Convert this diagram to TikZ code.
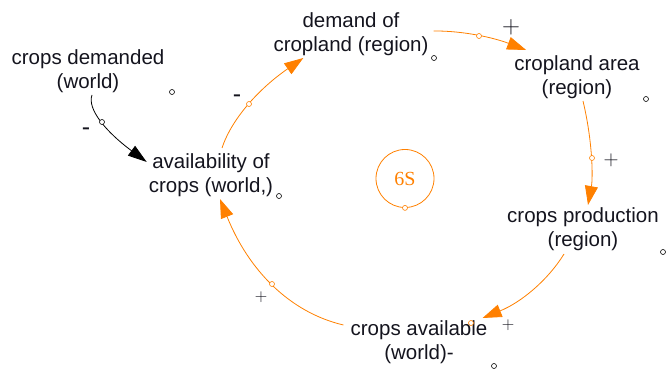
\documentclass[tikz,border=0pt]{standalone}
\usepackage{fontspec}
\setmainfont{Liberation Sans}
\newfontfamily\loopfont{Liberation Serif}
\usetikzlibrary{arrows.meta,calc}
\definecolor{cldorange}{RGB}{255,128,0}
\definecolor{cldtext}{RGB}{20,20,30}
\begin{document}
\begin{tikzpicture}[x=1pt,y=-1pt,
  var/.style={inner sep=0pt,align=center,text=cldtext,
    font=\fontsize{20.5}{24.5}\selectfont},
  link/.style={draw=cldorange,line width=0.8pt,
    -{Triangle[length=19pt,width=13pt]}},
  blink/.style={draw=black,line width=0.8pt,
    -{Triangle[length=19pt,width=12pt]}},
  handle/.style={circle,draw=cldorange,fill=white,line width=0.6pt,
    inner sep=0pt,minimum size=5pt},
  bhandle/.style={circle,draw=black,fill=white,line width=0.6pt,
    inner sep=0pt,minimum size=5pt},
  sign/.style={inner sep=0pt,text=cldtext},
  minus/.style={sign,font=\fontsize{25}{25}\selectfont},
  plus/.style={sign,font=\fontsize{#1}{#1}\selectfont}]
\useasboundingbox (0,0) rectangle (666,371);

% variables
\node[var] (cd)  at (88,71)   {crops demanded\\(world)};
\node[var] (av)  at (211,175) {availability of\\crops (world,)};
\node[var] (dc)  at (351,34)  {demand of\\cropland (region)};
\node[var] (ca)  at (577,77)  {cropland area\\(region)};
\node[var] (cp)  at (583,229) {crops production\\(region)};
\node[var] (cav) at (419,342) {crops available\\(world)-};

% loop marker
\node[circle,draw=cldorange,line width=0.8pt,minimum size=58pt,inner sep=0pt,
  text=cldorange,font=\loopfont\fontsize{20}{20}\selectfont] (loop) at (405,178.5) {6S};
\node[handle] (loophandle) at (loop.south) {};

% links
\draw[blink] ($(cd.south)+(4,2)$) .. controls (87,108.7) and (105.3,131.3) .. ($(av.north west)+(-2,9)$);
\draw[link] ($(av.north)+(11,-5)$) .. controls (231.3,119.7) and (258,89.3) .. ($(dc.south west)+(30,2)$);
\draw[link] ($(dc.east)+(5,-3)$) .. controls (463.3,30.7) and (493.7,37.7) .. ($(ca.north west)+(12,-5)$);
\draw[link] ($(ca.south)+(6,2)$) .. controls (592.7,141.7) and (593,177.7) .. ($(cp.north)+(5,-2)$);
\draw[link] ($(cp.south)+(-19,3)$) .. controls (548,280) and (521.3,302.3) .. ($(cav.north east)+(-5,-2)$);
\draw[link] ($(cav.north west)+(-7,5)$) .. controls (289.3,312.3) and (248.3,269.7) .. ($(av.south)+(9,2)$);

% link handles
\node[bhandle] (h1) at (102,122) {};
\node[handle]  (h2) at (249,104) {};
\node[handle]  (h3) at (479,36)  {};
\node[handle]  (h4) at (592,158) {};
\node[handle]  (h5) at (471,323) {};
\node[handle]  (h6) at (272,284) {};

% variable handles
\node[bhandle] (v1) at (172,92)  {};
\node[bhandle] (v2) at (279,196) {};
\node[bhandle] (v3) at (434,58)  {};
\node[bhandle] (v4) at (646,99)  {};
\node[bhandle] (v5) at (663,252) {};
\node[bhandle] (v6) at (494,366) {};

% polarities (thin plus signs set in math)
\node[minus] (p1) at (86,132)  {-};
\node[minus] (p2) at (237,99)  {-};
\node[plus=24] (p3) at (511,27)  {$+$};
\node[plus=21] (p4) at (611,160) {$+$};
\node[plus=18] (p5) at (508,325) {$+$};
\node[plus=17] (p6) at (261,297) {$+$};
\end{tikzpicture}
\end{document}
